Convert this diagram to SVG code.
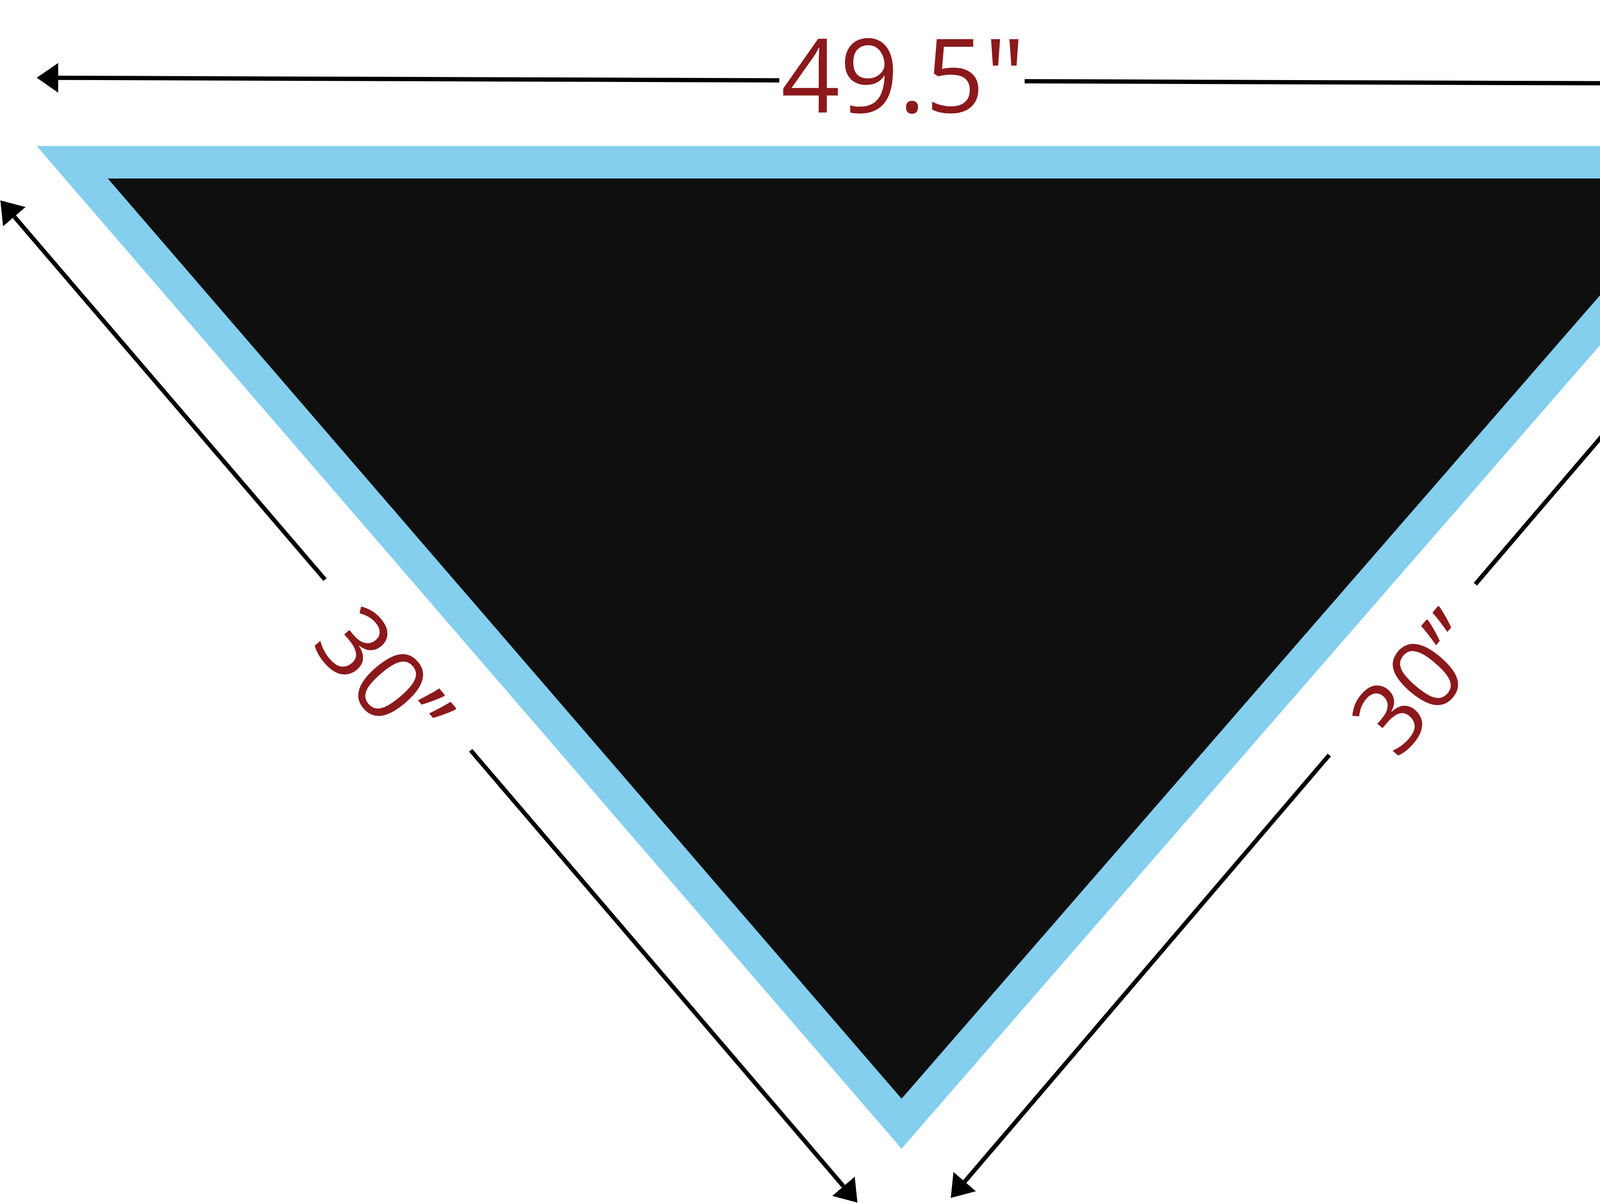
<svg xmlns="http://www.w3.org/2000/svg" width="4629" height="3080" viewBox="0 0 4629 3080">
<style>
.dim{stroke:#000;stroke-width:11;fill:none;stroke-linecap:butt}
.lbl{font-family:"Open Sans","Noto Sans","Liberation Sans",sans-serif;fill:#8B191C;text-anchor:middle}
</style>
<defs>
<marker id="arrow" viewBox="0 0 55 76" markerUnits="userSpaceOnUse" markerWidth="55" markerHeight="76" refX="0" refY="38" orient="auto">
<path d="M0,0 L55,38 L0,76 Z" fill="#000"/>
</marker>
</defs>
<rect width="4629" height="3080" fill="#fff"/>
<g id="triangle">
<polygon points="94,374 4539,374 2308,2941" fill="#84CEEE"/>
<polygon points="276,457 4356,457 2308,2813" fill="#0F0F0F"/>
</g>
<g id="connectors">
<line class="dim" x1="1995" y1="205.8" x2="149" y2="199.2" marker-end="url(#arrow)"/>
<line class="dim" x1="2623" y1="208" x2="4540" y2="214.8" marker-end="url(#arrow)"/>
<line class="dim" x1="832" y1="1484" x2="36.7" y2="554.8" marker-end="url(#arrow)"/>
<line class="dim" x1="1205" y1="1921" x2="2159.3" y2="3037.2" marker-end="url(#arrow)"/>
<line class="dim" x1="3777" y1="1495.7" x2="4592.3" y2="541.8" marker-end="url(#arrow)"/>
<line class="dim" x1="3403" y1="1933" x2="2469.7" y2="3025.2" marker-end="url(#arrow)"/>
</g>
<g id="label-top">
<text class="lbl" x="2312" y="288" font-size="263">49.5"</text>
</g>
<g id="label-left">
<text class="lbl" font-size="250" transform="translate(914,1791) rotate(49.5)">30”</text>
</g>
<g id="label-right">
<text class="lbl" font-size="250" transform="translate(3699,1806) rotate(-49.5)">30”</text>
</g>
</svg>
